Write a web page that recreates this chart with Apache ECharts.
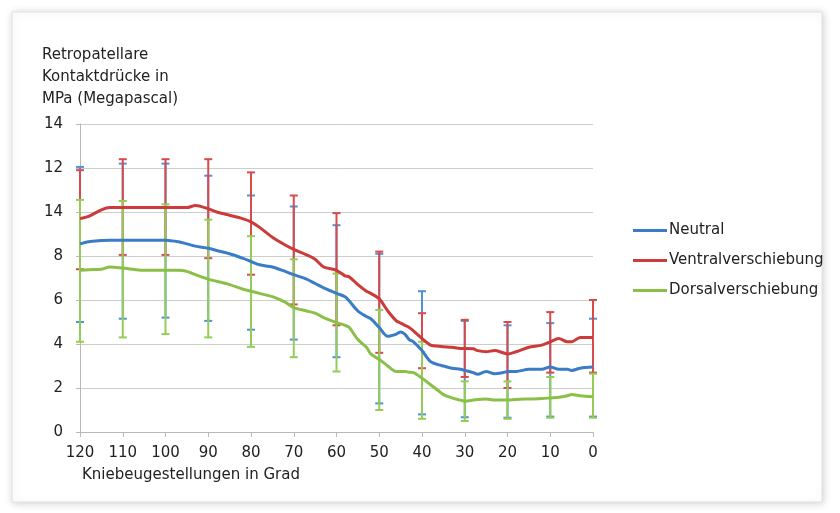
<!DOCTYPE html>
<html>
<head>
<meta charset="utf-8">
<script src="https://cdn.jsdelivr.net/npm/echarts@6/dist/echarts.min.js"></script>
<style>
html,body{margin:0;padding:0;background:#fff;}
#c{width:840px;height:513px;}
</style>
</head>
<body>
<div id="c"></div>
<script>
// ---- data ----
const seriesNames = ['Neutral', 'Ventralverschiebung', 'Dorsalverschiebung'];
const yTickLabels = ['0', '2', '4', '6', '8', '14', '12', '14'];
const xTickLabels = ['120','110','100','90','80','70','60','50','40','30','20','10','0'];
const degrees = [120,118,115,113,110,105,100,97,95,93,90,88,85,82,80,78,75,72,70,67,65,63,60,58,57,55,53,52,50,48,46,45,44,43,42,40,38,36,35,33,31,30,28,27,25,23,21,20,18,15,12,10,8,6,5,3,0];
const neutral = [8.55,8.65,8.7,8.72,8.72,8.72,8.72,8.65,8.55,8.45,8.35,8.25,8.1,7.9,7.75,7.6,7.5,7.3,7.15,6.95,6.75,6.55,6.3,6.15,5.95,5.5,5.25,5.15,4.75,4.35,4.45,4.55,4.45,4.2,4.1,3.7,3.2,3.05,3.0,2.9,2.85,2.8,2.7,2.62,2.75,2.65,2.7,2.75,2.75,2.85,2.85,2.95,2.85,2.85,2.8,2.9,2.95];
const ventral = [9.7,9.8,10.1,10.2,10.2,10.2,10.2,10.2,10.2,10.3,10.15,10.0,9.85,9.7,9.55,9.3,8.85,8.5,8.3,8.05,7.85,7.5,7.35,7.1,7.05,6.7,6.4,6.3,6.05,5.5,5.05,4.95,4.85,4.75,4.6,4.25,3.95,3.9,3.88,3.85,3.8,3.8,3.78,3.7,3.65,3.7,3.6,3.55,3.65,3.85,3.95,4.1,4.25,4.1,4.1,4.3,4.3];
const dorsal = [7.35,7.38,7.4,7.5,7.45,7.35,7.35,7.35,7.3,7.15,6.95,6.85,6.7,6.5,6.4,6.3,6.15,5.9,5.65,5.5,5.4,5.2,4.97,4.85,4.75,4.2,3.85,3.55,3.3,3.0,2.75,2.75,2.75,2.72,2.7,2.45,2.15,1.85,1.7,1.55,1.45,1.4,1.45,1.48,1.5,1.45,1.45,1.45,1.48,1.5,1.52,1.55,1.58,1.65,1.7,1.65,1.6];
// error bars at every 10 degrees
const errDeg = [120,110,100,90,80,70,60,50,40,30,20,10,0];
const neutralHigh = [12.05,12.2,12.2,11.65,10.75,10.25,9.4,8.1,6.4,5.05,4.85,4.95,5.15];
const neutralLow  = [5.0,5.15,5.2,5.05,4.65,4.2,3.4,1.3,0.8,0.67,0.65,0.7,0.7];
const ventralHigh = [11.9,12.4,12.4,12.4,11.8,10.75,9.95,8.2,5.4,5.1,5.0,5.45,6.0];
const ventralLow  = [7.4,8.05,8.05,7.9,7.15,5.8,4.85,3.6,2.9,2.5,2.0,2.7,2.7];
const dorsalHigh  = [10.55,10.5,10.35,9.65,8.9,7.85,7.2,5.55,4.1,2.3,2.3,2.5,2.65];
const dorsalLow   = [4.1,4.3,4.45,4.3,3.87,3.4,2.75,1.0,0.6,0.5,0.6,0.65,0.65];

// ---- styles ----
const lineColors = ['#3a7cc6', '#cc3a3a', '#8abf48'];
const barColors = ['#4d93dc', '#d94a4a', '#94cc55'];
const FONT = '"DejaVu Sans", sans-serif';
const FS = 15;

function pairs(xs, ys) { return xs.map((x, i) => [x, ys[i]]); }
function errData(lo, hi) { return errDeg.map((d, i) => [d, lo[i], hi[i]]); }

function errRender(color) {
  return function (params, api) {
    const x = api.value(0);
    const p1 = api.coord([x, api.value(1)]);
    const p2 = api.coord([x, api.value(2)]);
    const w = 4;
    const st = { stroke: color, lineWidth: 2 };
    return {
      type: 'group',
      children: [
        { type: 'line', shape: { x1: p1[0], y1: p1[1], x2: p2[0], y2: p2[1] }, style: st },
        { type: 'line', shape: { x1: p1[0] - w, y1: p1[1], x2: p1[0] + w, y2: p1[1] }, style: st },
        { type: 'line', shape: { x1: p2[0] - w, y1: p2[1], x2: p2[0] + w, y2: p2[1] }, style: st }
      ]
    };
  };
}

const lineVals = [neutral, ventral, dorsal];
const errs = [errData(neutralLow, neutralHigh), errData(ventralLow, ventralHigh), errData(dorsalLow, dorsalHigh)];

const series = [];
for (let i = 0; i < 3; i++) {
  series.push({
    type: 'custom', name: seriesNames[i] + ' err', renderItem: errRender(barColors[i]),
    data: errs[i], encode: { x: 0, y: [1, 2] }, z: 2 + i, silent: true, clip: false
  });
}
for (let i = 0; i < 3; i++) {
  series.push({
    type: 'line', name: seriesNames[i], data: pairs(degrees, lineVals[i]),
    showSymbol: false, smooth: 0.3, z: 10 + i,
    lineStyle: { color: lineColors[i], width: 3 }, itemStyle: { color: lineColors[i] }
  });
}

const chart = echarts.init(document.getElementById('c'), null, { renderer: 'canvas' });
chart.setOption({
  backgroundColor: '#ffffff',
  animation: false,
  textStyle: { fontFamily: FONT },
  grid: { left: 80, right: 247, top: 124, bottom: 81, containLabel: false },
  xAxis: {
    type: 'value', min: 0, max: 120, interval: 10, inverse: true,
    axisLine: { show: true, onZero: false, lineStyle: { color: '#b8b8b8', width: 1 } },
    axisTick: { show: true, length: 5, lineStyle: { color: '#b8b8b8' } },
    splitLine: { show: false },
    axisLabel: { color: '#222', fontSize: FS, fontFamily: FONT, margin: 14,
      formatter: function (v) { return xTickLabels[errDeg.indexOf(v)]; } }
  },
  yAxis: {
    type: 'value', min: 0, max: 14, interval: 2, position: 'left',
    axisLine: { show: true, onZero: false, lineStyle: { color: '#b8b8b8', width: 1 } },
    axisTick: { show: true, length: 4, lineStyle: { color: '#b8b8b8' } },
    splitLine: { show: true, lineStyle: { color: '#cdcdcd', width: 1 } },
    axisLabel: { color: '#222', fontSize: FS, fontFamily: FONT, margin: 17,
      formatter: function (v) { return yTickLabels[Math.round(v / 2)]; } }
  },
  legend: {
    orient: 'vertical', left: 633, top: 223, itemGap: 15,
    itemWidth: 34, itemHeight: 3, icon: 'rect', padding: 0,
    data: seriesNames,
    textStyle: { color: '#222', fontSize: FS, fontFamily: FONT, padding: [0, 0, 0, -3] }
  },
  graphic: [
    { type: 'rect', z: -10, silent: true,
      shape: { x: 12, y: 12, width: 810, height: 490 },
      style: { fill: '#fff', stroke: '#e2e2e2', lineWidth: 1, shadowBlur: 8, shadowColor: 'rgba(0,0,0,0.18)', shadowOffsetX: 1, shadowOffsetY: 1 } },
    { type: 'text', left: 42, top: 44, silent: true,
      style: { text: 'Retropatellare\nKontaktdrücke in\nMPa (Megapascal)', fill: '#222', font: FS + 'px ' + FONT, lineHeight: 22 } },
    { type: 'text', left: 82, top: 468, silent: true,
      style: { text: 'Kniebeugestellungen in Grad', fill: '#222', font: FS + 'px ' + FONT } }
  ],
  series: series
});
</script>
</body>
</html>
